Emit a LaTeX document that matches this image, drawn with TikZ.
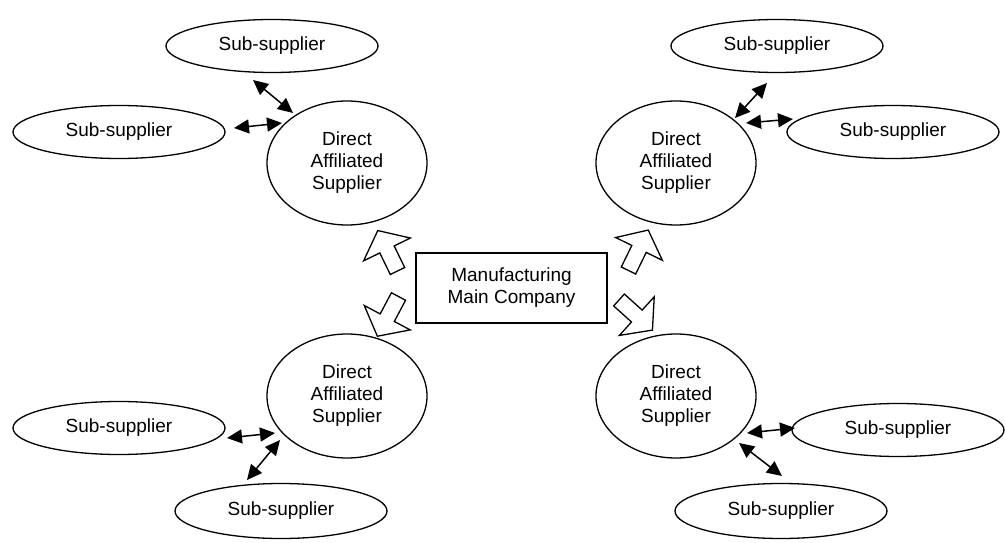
\documentclass[tikz,border=0pt]{standalone}
\usepackage{fontspec}
\setmainfont{Liberation Sans}
\usetikzlibrary{arrows.meta,shapes.geometric}
\begin{document}
\begin{tikzpicture}[x=1pt,y=-1pt,
  ell/.style={draw,ellipse,line width=1.3pt,inner sep=0pt},
  direct/.style={ell,minimum width=160pt,minimum height=124pt,align=center,font=\fontsize{19}{22}\selectfont},
  sub/.style={ell,minimum width=212pt,minimum height=53pt,font=\fontsize{19}{22}\selectfont},
  mainbox/.style={draw,line width=1.3pt,minimum width=191pt,minimum height=70pt,align=center,font=\fontsize{19}{22}\selectfont},
  dbl/.style={{Triangle[length=15pt,width=14pt]}-{Triangle[length=15pt,width=14pt]},line width=1.5pt},
  blockarrow/.pic={\draw[line width=1.3pt,line join=miter,fill=white] (0,-8)--(24,-8)--(24,-26)--(45,0)--(24,26)--(24,8)--(0,8)--cycle;}
]
\useasboundingbox (0,0) rectangle (1005,543);

\node[mainbox] (mc) at (511.5,288) {Manufacturing\\Main Company};

\node[direct] (dtl) at (347,163) {Direct\\Affiliated\\Supplier};
\node[direct] (dtr) at (676,163) {Direct\\Affiliated\\Supplier};
\node[direct] (dbl) at (347,396) {Direct\\Affiliated\\Supplier};
\node[direct] (dbr) at (676,396) {Direct\\Affiliated\\Supplier};

\node[sub] (stlt) at (272,46) {Sub-supplier};
\node[sub] (stll) at (119,132) {Sub-supplier};
\node[sub] (strt) at (777,46) {Sub-supplier};
\node[sub] (strr) at (893,132) {Sub-supplier};
\node[sub] (sbll) at (119,428) {Sub-supplier};
\node[sub,minimum height=55pt] (sblb) at (281,511) {Sub-supplier};
\node[sub] (sbrr) at (898,430) {Sub-supplier};
\node[sub,minimum height=55pt] (sbrb) at (781,511) {Sub-supplier};

\coordinate (a1) at (253,80);  \coordinate (b1) at (293,113);
\coordinate (a2) at (234,128); \coordinate (b2) at (282,123);
\coordinate (a3) at (767,83);  \coordinate (b3) at (735,118);
\coordinate (a4) at (746,123); \coordinate (b4) at (793,119);
\coordinate (a5) at (227,438); \coordinate (b5) at (275,433);
\coordinate (a6) at (247,480); \coordinate (b6) at (280,440);
\coordinate (a7) at (747,433); \coordinate (b7) at (795,428);
\coordinate (a8) at (739,443); \coordinate (b8) at (782,476);
\foreach \i in {1,...,8} \draw[dbl] (a\i) -- (b\i);

\pic[rotate=116] at (397.5,271) {blockarrow};
\pic[rotate=64] at (628.5,270.5) {blockarrow};
\pic[rotate=-118] at (398.5,296.5) {blockarrow};
\pic[rotate=-42] at (619,300) {blockarrow};
\end{tikzpicture}
\end{document}
